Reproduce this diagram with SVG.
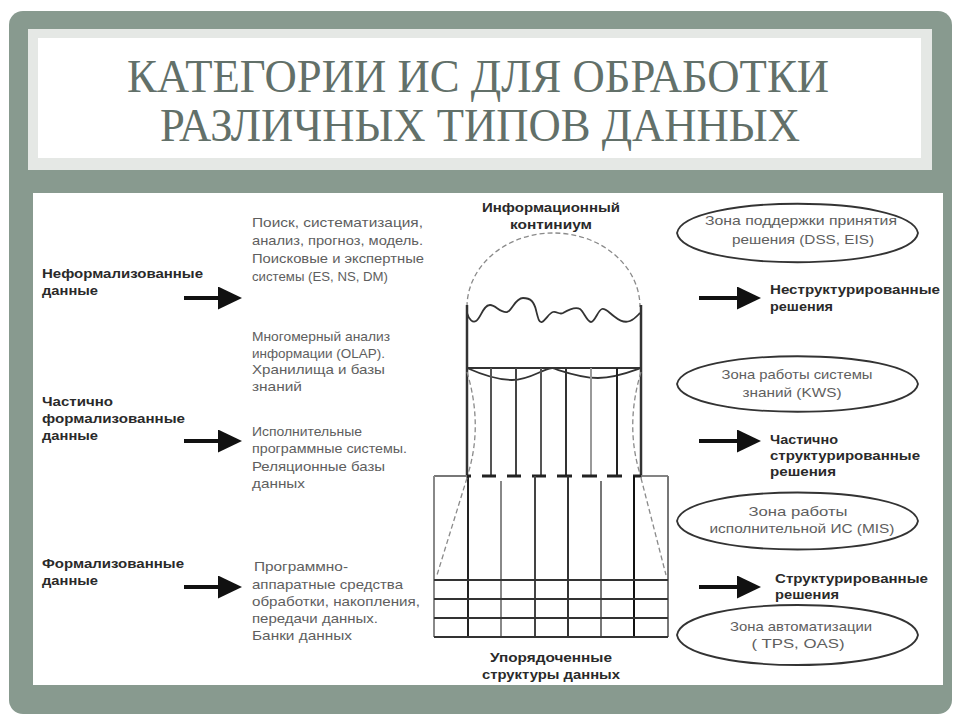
<svg xmlns="http://www.w3.org/2000/svg" width="960" height="720" viewBox="0 0 960 720">
<defs>
<style>
.ttl{font-family:"Liberation Serif","Times New Roman",serif;font-size:46px;fill:#627069}
.lbl{font-family:"Liberation Sans",Arial,sans-serif;font-size:13px;font-weight:bold;fill:#2a2a2a}
.txt{font-family:"Liberation Sans",Arial,sans-serif;font-size:13px;fill:#5e5e5e}
.mid{text-anchor:middle}
.dash{fill:none;stroke:#8a8a8a;stroke-width:1.3;stroke-dasharray:5 3}
.ell{fill:none;stroke:#333;stroke-width:1.8}
.side{stroke:#333;stroke-width:2.5}
.col{stroke-width:2}
.bar{stroke:#222;stroke-width:3}
.grid{stroke:#333;stroke-width:2}
.arr{stroke:#111;stroke-width:4;fill:none}
</style>
<marker id="ah" viewBox="0 0 24 23" refX="3" refY="11.5" markerWidth="24" markerHeight="23" markerUnits="userSpaceOnUse" orient="auto">
<path d="M0,0 L24,11.5 L0,23 Z" fill="#111"/>
</marker>
</defs>

<rect x="0" y="0" width="960" height="720" fill="#ffffff"/>
<rect x="9" y="11" width="943" height="703" rx="14" fill="#889a8f"/>
<rect x="28" y="29" width="904" height="141" fill="#e5e8e5"/>
<rect x="38" y="38" width="883" height="120" fill="#ffffff"/>
<rect x="33" y="193" width="910" height="492" fill="#ffffff"/>

<g id="title">
<text class="ttl mid" x="478" y="92" textLength="702" lengthAdjust="spacingAndGlyphs">КАТЕГОРИИ ИС ДЛЯ ОБРАБОТКИ</text>
<text class="ttl mid" x="480" y="141" textLength="640" lengthAdjust="spacingAndGlyphs">РАЗЛИЧНЫХ ТИПОВ ДАННЫХ</text>
</g>

<g id="input-unformalized">
<text class="lbl" x="42" y="278" textLength="161" lengthAdjust="spacingAndGlyphs">Неформализованные</text>
<text class="lbl" x="42" y="295" textLength="56" lengthAdjust="spacingAndGlyphs">данные</text>
</g>
<g id="input-partial">
<text class="lbl" x="42" y="406" textLength="71" lengthAdjust="spacingAndGlyphs">Частично</text>
<text class="lbl" x="42" y="423" textLength="143" lengthAdjust="spacingAndGlyphs">формализованные</text>
<text class="lbl" x="42" y="440" textLength="56" lengthAdjust="spacingAndGlyphs">данные</text>
</g>
<g id="input-formalized">
<text class="lbl" x="42" y="568" textLength="142" lengthAdjust="spacingAndGlyphs">Формализованные</text>
<text class="lbl" x="42" y="585" textLength="56" lengthAdjust="spacingAndGlyphs">данные</text>
</g>

<g id="tools-search">
<text class="txt" x="252" y="227" textLength="171" lengthAdjust="spacingAndGlyphs">Поиск, систематизация,</text>
<text class="txt" x="252" y="245" textLength="171" lengthAdjust="spacingAndGlyphs">анализ, прогноз, модель.</text>
<text class="txt" x="252" y="263" textLength="172" lengthAdjust="spacingAndGlyphs">Поисковые и экспертные</text>
<text class="txt" x="252" y="281" textLength="136" lengthAdjust="spacingAndGlyphs">системы (ES, NS, DM)</text>
</g>
<g id="tools-olap">
<text class="txt" x="252" y="341" textLength="138" lengthAdjust="spacingAndGlyphs">Многомерный анализ</text>
<text class="txt" x="252" y="358" textLength="133" lengthAdjust="spacingAndGlyphs">информации (OLAP).</text>
<text class="txt" x="252" y="374" textLength="133" lengthAdjust="spacingAndGlyphs">Хранилища и базы</text>
<text class="txt" x="252" y="391" textLength="50" lengthAdjust="spacingAndGlyphs">знаний</text>
</g>
<g id="tools-exec">
<text class="txt" x="252" y="436" textLength="110" lengthAdjust="spacingAndGlyphs">Исполнительные</text>
<text class="txt" x="252" y="453" textLength="155" lengthAdjust="spacingAndGlyphs">программные системы.</text>
<text class="txt" x="252" y="471" textLength="133" lengthAdjust="spacingAndGlyphs">Реляционные базы</text>
<text class="txt" x="252" y="488" textLength="53" lengthAdjust="spacingAndGlyphs">данных</text>
</g>
<g id="tools-hw">
<text class="txt" x="254" y="571" textLength="94" lengthAdjust="spacingAndGlyphs">Программно-</text>
<text class="txt" x="252" y="589" textLength="151" lengthAdjust="spacingAndGlyphs">аппаратные средства</text>
<text class="txt" x="252" y="606" textLength="168" lengthAdjust="spacingAndGlyphs">обработки, накопления,</text>
<text class="txt" x="252" y="623" textLength="126" lengthAdjust="spacingAndGlyphs">передачи данных.</text>
<text class="txt" x="252" y="640" textLength="100" lengthAdjust="spacingAndGlyphs">Банки данных</text>
</g>

<g id="continuum">
<text class="lbl mid" x="551" y="212" textLength="138" lengthAdjust="spacingAndGlyphs">Информационный</text>
<text class="lbl mid" x="551" y="229" textLength="82" lengthAdjust="spacingAndGlyphs">континиум</text>
<path class="dash" d="M467,307 A86.5,74 0 0 1 640,307"/>
<path fill="none" stroke="#333" stroke-width="1.8" d="M467,313 C469,320 473,323 476,321 C481,318 483,305 490,305 C496,305 500,313 507,312 C512,311 515,298 523,298 C531,298 534,302 536,310 C538,318 539,323 542,322 C546,320 549,313 553,312 C557,311 559,315 563,313 C568,310 575,306 580,309 C584,312 587,322 591,322 C595,322 598,310 602,309 C606,308 609,313 615,317 C620,321 625,323 630,321 C635,319 638,315 640,313"/>
<line class="side" x1="467" y1="305" x2="467" y2="476"/>
<line class="side" x1="641" y1="305" x2="641" y2="476"/>
<line stroke="#333" stroke-width="2" x1="467" y1="368" x2="641" y2="368"/>
<path fill="none" stroke="#333" stroke-width="1.8" d="M467,368 C485,376 500,380 512,380 C530,380 540,370 552,368 C565,372 580,378 598,378 C615,378 630,372 641,368"/>
<line class="col" stroke="#555" x1="491" y1="368" x2="491" y2="476"/>
<line class="col" stroke="#444" x1="516" y1="368" x2="516" y2="476"/>
<line class="col" stroke="#555" x1="541" y1="368" x2="541" y2="476"/>
<line class="col" stroke="#333" x1="566" y1="368" x2="566" y2="476"/>
<line class="col" stroke="#999" x1="591" y1="368" x2="591" y2="476"/>
<line class="col" stroke="#222" x1="617" y1="368" x2="617" y2="476"/>
<line class="bar" x1="466" y1="476" x2="471" y2="476"/>
<line class="bar" x1="482" y1="476" x2="496" y2="476"/>
<line class="bar" x1="507" y1="476" x2="521" y2="476"/>
<line class="bar" x1="532" y1="476" x2="546" y2="476"/>
<line class="bar" x1="557" y1="476" x2="572" y2="476"/>
<line class="bar" x1="582" y1="476" x2="597" y2="476"/>
<line class="bar" x1="607" y1="476" x2="622" y2="476"/>
<line class="bar" x1="633" y1="476" x2="642" y2="476"/>
<path class="dash" d="M467,372 Q483,425 468,474"/>
<path class="dash" d="M641,372 Q625,425 640,474"/>
</g>

<g id="structures">
<line stroke="#777" stroke-width="1.8" x1="434" y1="476" x2="467" y2="476"/>
<line stroke="#777" stroke-width="1.8" x1="641" y1="476" x2="668" y2="476"/>
<line stroke="#888" stroke-width="2" x1="434" y1="476" x2="434" y2="637"/>
<line stroke="#777" stroke-width="2" x1="668" y1="476" x2="668" y2="637"/>
<line class="col" stroke="#222" x1="468" y1="476" x2="468" y2="637"/>
<line class="col" stroke="#888" x1="501" y1="481" x2="501" y2="637"/>
<line class="col" stroke="#444" x1="535" y1="476" x2="535" y2="637"/>
<line class="col" stroke="#333" x1="568" y1="476" x2="568" y2="637"/>
<line class="col" stroke="#777" x1="601" y1="481" x2="601" y2="637"/>
<line class="col" stroke="#111" x1="634" y1="476" x2="634" y2="637"/>
<line class="grid" x1="434" y1="580" x2="668" y2="580"/>
<line class="grid" x1="434" y1="599" x2="668" y2="599"/>
<line class="grid" x1="434" y1="618" x2="668" y2="618"/>
<line class="grid" x1="434" y1="637" x2="668" y2="637"/>
<path class="dash" d="M467,478 L437,575"/>
<path class="dash" d="M641,478 L666,575"/>
<text class="lbl mid" x="551" y="662" textLength="122" lengthAdjust="spacingAndGlyphs">Упорядоченные</text>
<text class="lbl mid" x="551" y="679" textLength="138" lengthAdjust="spacingAndGlyphs">структуры данных</text>
</g>

<g id="zone-dss">
<path class="ell" d="M677,233 C684,194 911,194 918,233 C911,272 684,272 677,233 Z"/>
<text class="txt mid" x="801" y="225" textLength="192" lengthAdjust="spacingAndGlyphs">Зона поддержки принятия</text>
<text class="txt mid" x="803" y="244" textLength="142" lengthAdjust="spacingAndGlyphs">решения (DSS, EIS)</text>
</g>
<g id="zone-kws">
<path class="ell" d="M677,384 C684,347 911,347 918,384 C911,421 684,421 677,384 Z"/>
<text class="txt mid" x="797" y="379" textLength="151" lengthAdjust="spacingAndGlyphs">Зона работы системы</text>
<text class="txt mid" x="792" y="397" textLength="99" lengthAdjust="spacingAndGlyphs">знаний (KWS)</text>
</g>
<g id="zone-mis">
<path class="ell" d="M677,521 C684,483 911,483 918,521 C911,559 684,559 677,521 Z"/>
<text class="txt mid" x="798" y="516" textLength="99" lengthAdjust="spacingAndGlyphs">Зона работы</text>
<text class="txt mid" x="802" y="533" textLength="185" lengthAdjust="spacingAndGlyphs">исполнительной ИС (MIS)</text>
</g>
<g id="zone-tps">
<path class="ell" d="M677,635 C684,595 911,595 918,635 C911,675 684,675 677,635 Z"/>
<text class="txt mid" x="801" y="631" textLength="142" lengthAdjust="spacingAndGlyphs">Зона автоматизации</text>
<text class="txt mid" x="798" y="648" textLength="93" lengthAdjust="spacingAndGlyphs">( TPS, OAS)</text>
</g>

<g id="out-unstructured">
<text class="lbl" x="770" y="294" textLength="170" lengthAdjust="spacingAndGlyphs">Неструктурированные</text>
<text class="lbl" x="770" y="311" textLength="63" lengthAdjust="spacingAndGlyphs">решения</text>
</g>
<g id="out-partial">
<text class="lbl" x="770" y="444" textLength="68" lengthAdjust="spacingAndGlyphs">Частично</text>
<text class="lbl" x="770" y="460" textLength="150" lengthAdjust="spacingAndGlyphs">структурированные</text>
<text class="lbl" x="770" y="476" textLength="66" lengthAdjust="spacingAndGlyphs">решения</text>
</g>
<g id="out-structured">
<text class="lbl" x="775" y="583" textLength="153" lengthAdjust="spacingAndGlyphs">Структурированные</text>
<text class="lbl" x="775" y="599" textLength="64" lengthAdjust="spacingAndGlyphs">решения</text>
</g>

<g id="connectors">
<line class="arr" x1="184" y1="298" x2="221" y2="298" marker-end="url(#ah)"/>
<line class="arr" x1="184" y1="441" x2="221" y2="441" marker-end="url(#ah)"/>
<line class="arr" x1="184" y1="587" x2="221" y2="587" marker-end="url(#ah)"/>
<line class="arr" x1="699" y1="298" x2="740" y2="298" marker-end="url(#ah)"/>
<line class="arr" x1="699" y1="441" x2="740" y2="441" marker-end="url(#ah)"/>
<line class="arr" x1="699" y1="587" x2="740" y2="587" marker-end="url(#ah)"/>
</g>
</svg>
